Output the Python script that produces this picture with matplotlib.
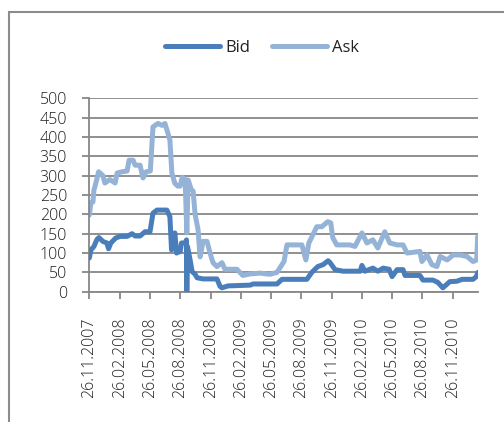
import pandas as pd
import matplotlib.pyplot as plt
from matplotlib.patches import Rectangle

plt.rcParams['font.family'] = ['Open Sans', 'DejaVu Sans']

start = pd.Timestamp('2007-11-26')

# day offsets from 26.11.2007 and values
ask_day = [0, 5, 11, 14, 19, 28, 35, 41, 47, 62, 78, 84, 99, 114, 120, 132, 138, 153, 162,
           171, 184, 192, 207, 219, 228, 237, 243, 249, 258, 267, 274, 280, 289, 294, 298,
           307, 313, 319, 328, 334, 343, 355, 364, 373, 385, 400, 409, 445, 463, 485, 515,
           545, 566, 581, 587, 596, 641, 653, 662, 686, 701, 719, 728, 734, 746, 786, 801,
           822, 837, 855, 870, 891, 906, 928, 946, 958, 997, 1003, 1018, 1033, 1048, 1058,
           1079, 1097, 1118, 1139, 1157, 1168, 1171, 1172]
ask = [198, 230, 232, 263, 278, 310, 305, 300, 281, 290, 281, 307, 310, 312, 340, 340, 327,
       327, 294, 310, 312, 426, 435, 430, 435, 410, 392, 307, 280, 273, 273, 296, 290, 152,
       289, 265, 260, 200, 160, 90, 130, 130, 100, 75, 65, 75, 58, 58, 42, 46, 48, 45, 50,
       70, 78, 121, 121, 82, 126, 168, 168, 181, 178, 140, 121, 121, 117, 152, 126, 134, 113,
       155, 126, 121, 121, 100, 104, 78, 95, 70, 65, 91, 82, 95, 95, 91, 78, 82, 142, 140]

bid_day = [0, 5, 14, 23, 29, 41, 53, 58, 65, 80, 93, 114, 129, 138, 153, 168, 183, 192, 204,
           234, 243, 248, 258, 263, 274, 278, 289, 293, 294, 296, 304, 310, 319, 325, 343,
           385, 394, 400, 418, 485, 494, 566, 581, 656, 671, 689, 705, 720, 726, 741, 765,
           817, 822, 831, 855, 870, 886, 904, 913, 928, 946, 952, 997, 1006, 1036, 1051,
           1066, 1087, 1108, 1124, 1157, 1166, 1172]
bid = [87, 108, 117, 135, 140, 130, 126, 111, 126, 139, 143, 143, 150, 144, 144, 155, 155,
       203, 211, 211, 194, 108, 152, 100, 104, 126, 126, 134, 2, 117, 82, 52, 45, 36, 33, 33,
       14, 10, 15, 17, 20, 20, 32, 32, 50, 65, 70, 80, 75, 57, 53, 53, 68, 53, 61, 53, 61,
       58, 39, 57, 57, 42, 42, 30, 30, 24, 10, 26, 27, 32, 32, 38, 50]

tick_labels = ['26.11.2007', '26.02.2008', '26.05.2008', '26.08.2008', '26.11.2008',
               '26.02.2009', '26.05.2009', '26.08.2009', '26.11.2009', '26.02.2010',
               '26.05.2010', '26.08.2010', '26.11.2010']

ask_dates = start + pd.to_timedelta(ask_day, unit='D')
bid_dates = start + pd.to_timedelta(bid_day, unit='D')
tick_dates = pd.to_datetime(tick_labels, format='%d.%m.%Y')

fig = plt.figure(figsize=(5.04, 4.22), dpi=100)
ax = fig.add_axes([89.3 / 504, 1 - 291.7 / 422, (478 - 89.3) / 504, (291.7 - 98.3) / 422])

grey = '#878787'
ax.plot(bid_dates, bid, color='#4A7EBB', lw=3.6, label='Bid',
        solid_capstyle='round', solid_joinstyle='round', zorder=3)
ax.plot(ask_dates, ask, color='#95B3D7', lw=3.6, label='Ask',
        solid_capstyle='round', solid_joinstyle='round', zorder=2)

ax.set_xlim(start, start + pd.Timedelta(days=1172))
ax.set_ylim(0, 500)
ax.set_yticks(range(0, 501, 50))
ax.set_xticks(tick_dates)
ax.set_xticklabels(tick_labels, rotation=90)
ax.grid(axis='y', color=grey, lw=1.3)
ax.set_axisbelow(True)
for s in ['top', 'right']:
    ax.spines[s].set_visible(False)
for s in ['left', 'bottom']:
    ax.spines[s].set_color(grey)
    ax.spines[s].set_linewidth(1.3)
ax.tick_params(axis='both', color=grey, length=5, width=1.3, labelsize=11.5,
               labelcolor='#1e1e1e')
ax.tick_params(axis='x', pad=13.5)
ax.tick_params(axis='y', pad=11)
for t in ax.get_xticklabels() + ax.get_yticklabels():
    t.set_fontweight('light')

leg = fig.legend(loc='center', bbox_to_anchor=(262 / 504, 1 - 48 / 422), ncol=2,
                 frameon=False, fontsize=12, handlelength=3.3, handletextpad=0.3,
                 columnspacing=1.3)
for t in leg.get_texts():
    t.set_color('#222222')

fig.add_artist(Rectangle((9 / 504, -0.1), 1.2, 1.1 - 12 / 422, transform=fig.transFigure,
                         fill=False, edgecolor='#8c8c8c', lw=1.5, clip_on=False))

fig.savefig('out.png', dpi=100)
